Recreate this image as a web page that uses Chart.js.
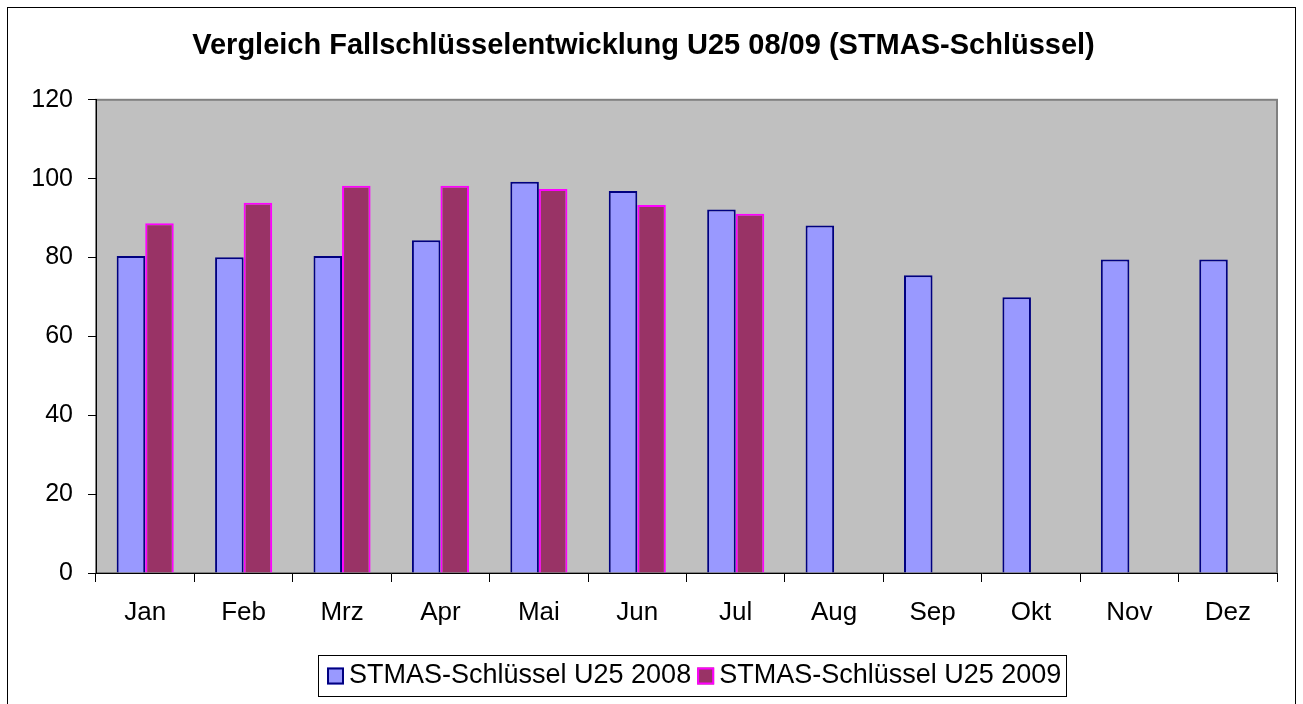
<!DOCTYPE html>
<html>
<head>
<meta charset="utf-8">
<script src="https://cdn.jsdelivr.net/npm/chart.js@4/dist/chart.umd.min.js"></script>
<style>
  body { margin: 0; background: #fff; }
  #wrap { width: 1303px; height: 704px; }
</style>
</head>
<body>
<div id="wrap"><canvas id="myChart" width="1303" height="704"></canvas></div>
<script>
const months = ["Jan", "Feb", "Mrz", "Apr", "Mai", "Jun", "Jul", "Aug", "Sep", "Okt", "Nov", "Dez"];
const values2008 = [80.4, 80.1, 80.4, 84.4, 99.2, 96.9, 92.2, 88.1, 75.5, 69.9, 79.5, 79.5];
const values2009 = [88.7, 93.9, 98.2, 98.2, 97.4, 93.3, 91.1, null, null, null, null, null];
const yTicks = [0, 20, 40, 60, 80, 100, 120];

const fontFamily = "'Liberation Sans', Arial, sans-serif";

// gray plot area, outer frame, and the boxed legend under the axis
const framePlugin = {
  id: "frame",
  beforeDraw(chart) {
    const c = chart.ctx;
    const a = chart.chartArea;
    c.save();
    c.fillStyle = "#ffffff";
    c.fillRect(0, 0, chart.width, chart.height);
    c.strokeStyle = "#000000";
    c.lineWidth = 1;
    c.strokeRect(7.5, 7.5, chart.width - 15, chart.height + 10);
    c.fillStyle = "#c0c0c0";
    c.fillRect(a.left, a.top, a.right - a.left, a.bottom - a.top);
    c.strokeStyle = "#808080";
    c.lineWidth = 2;
    c.strokeRect(a.left, a.top, a.right - a.left, a.bottom - a.top);
    c.restore();
  },
  afterDraw(chart) {
    const c = chart.ctx;
    const ds = chart.data.datasets;
    const box = 17, gap = 5, itemGap = 6;
    c.save();
    c.font = "27px " + fontFamily;
    const widths = ds.map(d => c.measureText(d.label).width);
    const content = widths.reduce((s, w) => s + box + gap + w, 0) + itemGap * (ds.length - 1);
    const boxW = content + 9 + 5;
    const centerX = 692;
    const left = Math.round(centerX - boxW / 2);
    const top = 655, bottom = 696, midY = 676;
    c.fillStyle = "#ffffff";
    c.fillRect(left, top, boxW, bottom - top);
    c.strokeStyle = "#000000";
    c.lineWidth = 1;
    c.strokeRect(left + 0.5, top + 0.5, Math.round(boxW), bottom - top);
    let x = left + 9;
    ds.forEach((d, i) => {
      c.fillStyle = d.backgroundColor;
      c.fillRect(x, midY - box / 2, box, box);
      c.strokeStyle = d.borderColor;
      c.lineWidth = 2;
      c.strokeRect(x + 1, midY - box / 2 + 1, box - 2, box - 2);
      c.fillStyle = "#000000";
      c.textBaseline = "middle";
      c.textAlign = "left";
      c.fillText(d.label, x + box + gap, midY);
      x += box + gap + widths[i] + itemGap;
    });
    c.restore();
  }
};

const ctx = document.getElementById("myChart");
new Chart(ctx, {
  type: "bar",
  data: {
    labels: months,
    datasets: [
      {
        label: "STMAS-Schlüssel U25 2008",
        data: values2008,
        backgroundColor: "#9999ff",
        borderColor: "#000080",
        borderWidth: 2,
        barPercentage: 1,
        categoryPercentage: 0.58
      },
      {
        label: "STMAS-Schlüssel U25 2009",
        data: values2009,
        backgroundColor: "#993366",
        borderColor: "#ff00ff",
        borderWidth: 2,
        barPercentage: 1,
        categoryPercentage: 0.58
      }
    ]
  },
  options: {
    responsive: false,
    animation: false,
    layout: { padding: { left: 10, right: 26, top: 0, bottom: 50 } },
    plugins: {
      title: {
        display: true,
        text: "Vergleich Fallschlüsselentwicklung U25 08/09 (STMAS-Schlüssel)",
        color: "#000000",
        font: { family: fontFamily, size: 29, weight: "bold" },
        padding: { top: 29, bottom: 36 }
      },
      legend: { display: false },
      tooltip: { enabled: false }
    },
    scales: {
      x: {
        grid: {
          offset: true,
          drawOnChartArea: false,
          drawTicks: true,
          tickLength: 9,
          color: "#000000"
        },
        border: { color: "#000000", width: 1 },
        ticks: {
          color: "#000000",
          font: { family: fontFamily, size: 26 },
          padding: 15
        },
        afterFit(scale) { scale.height = 81; }
      },
      y: {
        min: 0,
        max: 120,
        afterBuildTicks(scale) { scale.ticks = yTicks.map(v => ({ value: v })); },
        grid: {
          drawOnChartArea: false,
          tickLength: 8,
          color: "#000000"
        },
        border: { color: "#000000", width: 1 },
        ticks: {
          color: "#000000",
          font: { family: fontFamily, size: 25 },
          padding: 15
        },
        afterFit(scale) { scale.width = 86; }
      }
    }
  },
  plugins: [framePlugin]
});
</script>
</body>
</html>
